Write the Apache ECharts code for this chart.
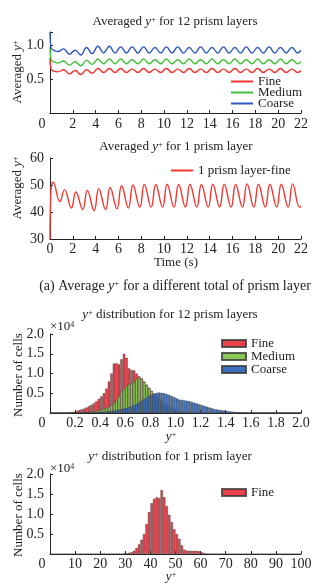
<!DOCTYPE html>
<html>
<head>
<meta charset="utf-8">
<script src="https://cdn.jsdelivr.net/npm/echarts@6/dist/echarts.min.js"></script>
<style>html,body{margin:0;padding:0;background:#fff}#c{width:327px;height:586px}</style>
</head>
<body>
<div id="c"></div>
<script>
// ---------- Data ----------
// (a) averaged y+ for 12 prism layers (time in s)
const time12 = [0,0.08,0.3,0.7,1.2,1.7,2.2,2.7,3.2,3.7,4.2,4.7,5.2,5.7,6.2,6.7,7.2,7.7,8.2,8.7,9.2,9.7,10.2,10.7,11.2,11.7,12.2,12.7,13.2,13.7,14.2,14.7,15.2,15.7,16.2,16.7,17.2,17.7,18.2,18.7,19.2,19.7,20.2,20.7,21.2,21.7,22];
const fine12 = [0.82,0.66,0.62, 0.61,0.64, 0.58,0.63, 0.57,0.64, 0.59,0.66, 0.60,0.66, 0.60,0.66, 0.60,0.65, 0.60,0.66, 0.60,0.65, 0.60,0.66, 0.60,0.65, 0.60,0.66, 0.60,0.65, 0.60,0.66, 0.60,0.65, 0.60,0.66, 0.60,0.65, 0.60,0.66, 0.60,0.65, 0.60,0.66, 0.60,0.65, 0.60,0.63];
const medium12 = [0.98,0.80,0.76, 0.74,0.77, 0.71,0.76, 0.70,0.78, 0.72,0.80, 0.73,0.80, 0.73,0.80, 0.73,0.79, 0.73,0.80, 0.73,0.79, 0.73,0.80, 0.73,0.79, 0.73,0.80, 0.73,0.79, 0.73,0.80, 0.73,0.79, 0.73,0.80, 0.73,0.79, 0.73,0.80, 0.73,0.79, 0.73,0.80, 0.73,0.79, 0.73,0.76];
const coarse12 = [1.20,0.97,0.93, 0.91,0.95, 0.87,0.93, 0.86,0.97, 0.88,0.99, 0.89,0.99, 0.89,0.98, 0.89,0.98, 0.89,0.98, 0.89,0.97, 0.89,0.98, 0.89,0.98, 0.89,0.97, 0.89,0.98, 0.89,0.97, 0.89,0.98, 0.89,0.97, 0.89,0.98, 0.89,0.97, 0.89,0.98, 0.89,0.97, 0.89,0.97, 0.89,0.93];
// averaged y+ for 1 prism layer
const time1 = [0,0.08,0.27,0.87,1.27,1.87,2.27,2.87,3.27,3.87,4.27,4.87,5.27,5.87,6.27,6.87,7.27,7.87,8.27,8.87,9.27,9.87,10.27,10.87,11.27,11.87,12.27,12.87,13.27,13.87,14.27,14.87,15.27,15.87,16.27,16.87,17.27,17.87,18.27,18.87,19.27,19.87,20.27,20.87,21.27,21.87,22];
const fine1 = [30,48,51.0, 43.9,48.3, 41.5,47.4, 40.9,48.0, 40.5,48.6, 40.9,49.1, 41.2,49.7, 41.5,50.0, 41.7,50.2, 41.8,50.2, 41.8,50.3, 41.8,50.2, 41.8,50.3, 41.8,50.2, 41.8,50.3, 41.8,50.3, 41.8,50.2, 41.8,50.4, 41.8,50.3, 41.8,50.3, 41.8,50.3, 41.8,50.4, 41.8,42.1];

// (b) y+ distribution for 12 prism layers, bins of 0.02 (x10^4 cells)
const fine12Hist = [0,0,0,0,0, 0.005,0.01,0.015,0.02,0.03,
  0.05,0.07,0.09,0.11,0.14, 0.17,0.21,0.25,0.30,0.36,
  0.42,0.50,0.62,0.80,1.00, 1.25,1.26,1.23,1.36,1.50,
  1.40,1.13,1.09,1.08,1.00, 0.93,0.88,0.80,0.72,0.64,
  0.56,0.48,0.40,0.32,0.25, 0.19,0.14,0.10,0.07,0.05,
  0.035,0.025,0.018,0.012,0.008, 0.005,0.003,0.002,0.001,0.001,
  0,0,0,0,0,0,0,0,0,0, 0,0,0,0,0,0,0,0,0,0, 0,0,0,0,0,0,0,0,0,0, 0,0,0,0,0,0,0,0,0,0];
const medium12Hist = [0,0,0,0,0, 0,0,0.003,0.005,0.008,
  0.01,0.013,0.017,0.02,0.025, 0.03,0.04,0.05,0.06,0.075,
  0.09,0.11,0.13,0.16,0.20, 0.25,0.32,0.42,0.53,0.62,
  0.68,0.73,0.76,0.79,0.86, 0.90,0.86,0.78,0.70,0.63,
  0.56,0.49,0.43,0.37,0.31, 0.26,0.21,0.17,0.14,0.11,
  0.09,0.07,0.055,0.045,0.035, 0.027,0.02,0.015,0.011,0.008,
  0.006,0.004,0.003,0.002,0.001, 0,0,0,0,0,
  0,0,0,0,0,0,0,0,0,0, 0,0,0,0,0,0,0,0,0,0, 0,0,0,0,0,0,0,0,0,0];
const coarse12Hist = [0,0,0,0,0, 0,0,0,0,0,
  0.003,0.004,0.005,0.006,0.008, 0.01,0.012,0.015,0.018,0.022,
  0.026,0.03,0.036,0.043,0.05, 0.06,0.07,0.085,0.10,0.115,
  0.13,0.15,0.17,0.20,0.23, 0.27,0.31,0.35,0.39,0.43,
  0.46,0.49,0.51,0.52,0.51, 0.50,0.48,0.46,0.43,0.40,
  0.37,0.34,0.33,0.32,0.31, 0.30,0.28,0.26,0.24,0.22,
  0.20,0.18,0.16,0.14,0.12, 0.10,0.09,0.08,0.07,0.06,
  0.05,0.042,0.035,0.03,0.025, 0.02,0.016,0.013,0.01,0.008,
  0.006,0.005,0.004,0.003,0.003, 0.002,0.002,0.001,0.001,0.001,
  0,0,0,0,0,0,0,0,0,0];
// y+ distribution for 1 prism layer, bins of 1 (x10^4 cells)
const fine1Hist = [0,0,0,0,0,0,0,0,0,0, 0,0,0,0,0,0,0,0,0,0,
  0.003,0.004,0.005,0.006,0.008, 0.01,0.01,0.012,0.012,0.015,
  0.02,0.03,0.045,0.08,0.15, 0.24,0.36,0.50,0.75,1.05,
  1.27,1.38,1.42,1.40,1.60, 1.42,1.20,0.98,0.80,0.62,
  0.50,0.38,0.22,0.11,0.085, 0.08,0.08,0.08,0.08,0.07,
  0.045,0.025,0.012,0.008,0.005, 0.004,0.003,0.002,0.002,0.001,
  0,0,0,0,0,0,0,0,0,0, 0,0,0,0,0,0,0,0,0,0, 0,0,0,0,0,0,0,0,0,0];

const binWidth12 = 0.02, binWidth1 = 1;
const bins12 = fine12Hist.map((_, i) => ((i + 0.5) * binWidth12).toFixed(2));
const bins1 = fine1Hist.map((_, i) => ((i + 0.5) * binWidth1).toFixed(1));

// ---------- Styling ----------
const FONT = 'Liberation Serif';
const INK = '#222';
const rich = {
  i: { fontFamily: FONT, fontStyle: 'italic', fontSize: 13, fill: INK, color: INK },
  s: { fontFamily: FONT, fontSize: 8, verticalAlign: 'top', fill: INK, color: INK }
};
const richL = {
  i: { fontFamily: FONT, fontStyle: 'italic', fontSize: 14, fill: INK, color: INK },
  s: { fontFamily: FONT, fontSize: 9, verticalAlign: 'top', fill: INK, color: INK }
};
function txt(text, x, y, opt) {
  opt = opt || {};
  const size = opt.size || 13;
  return {
    type: 'text', x: x, y: y, rotation: opt.rot || 0, silent: true,
    style: {
      text: text, font: size + 'px "' + FONT + '"', fill: INK,
      align: opt.align || 'center', verticalAlign: 'middle',
      textAlign: opt.align || 'center', textVerticalAlign: 'middle',
      rich: size >= 14 ? richL : rich
    }
  };
}
const zip = (xs, ys) => xs.map((x, i) => [x, ys[i]]);

const axisLine = { lineStyle: { color: INK, width: 1 } };
const axisTick = { inside: true, length: 3, lineStyle: { color: INK } };
const lbl = (fmt, margin) => ({ fontFamily: FONT, fontSize: 14, color: INK, margin: margin, formatter: fmt,
  rich: { z: { fontFamily: FONT, fontSize: 14, color: INK, padding: [0, 16, 0, 0] } } });
const fmtZeroShift = d => v => (Math.abs(v) < 1e-9 ? '{z|0}' : v.toFixed(d));
const fmtY = v => (Math.abs(v) < 1e-9 ? '' : (Math.abs(v / 0.5 - Math.round(v / 0.5)) > 1e-6 ? '' : v.toFixed(1)));

const grids = [
  { left: 50, top: 32, width: 251, height: 81 },
  { left: 50, top: 158, width: 251, height: 81 },
  { left: 50, top: 334, width: 251, height: 79 },
  { left: 50, top: 474, width: 251, height: 80 }
];

const xAxes = [
  { type: 'value', gridIndex: 0, position: 'bottom', min: 0, max: 22, interval: 2, axisLine, axisTick, splitLine: { show: false }, axisLabel: lbl(fmtZeroShift(0), 4) },
  { type: 'value', gridIndex: 1, position: 'bottom', min: 0, max: 22, interval: 2, axisLine, axisTick, splitLine: { show: false }, axisLabel: lbl(v => String(v), 3) },
  { type: 'category', gridIndex: 2, position: 'top', data: bins12, show: false, boundaryGap: true },
  { type: 'value', gridIndex: 2, position: 'bottom', min: 0, max: 2, interval: 0.2, axisLine, axisTick, splitLine: { show: false }, axisLabel: lbl(fmtZeroShift(1), 3) },
  { type: 'category', gridIndex: 3, position: 'top', data: bins1, show: false, boundaryGap: true },
  { type: 'value', gridIndex: 3, position: 'bottom', min: 0, max: 100, interval: 10, axisLine, axisTick, splitLine: { show: false }, axisLabel: lbl(fmtZeroShift(0), 3) }
];
const yAxes = [
  { type: 'value', gridIndex: 0, min: 0, max: 1.2, interval: 0.5, axisLine, axisTick, splitLine: { show: false }, axisLabel: lbl(fmtY, 6) },
  { type: 'value', gridIndex: 1, min: 30, max: 60, interval: 10, axisLine, axisTick, splitLine: { show: false }, axisLabel: lbl(v => String(v), 6) },
  { type: 'value', gridIndex: 2, min: 0, max: 2, interval: 0.5, axisLine, axisTick, splitLine: { show: false }, axisLabel: lbl(fmtY, 6) },
  { type: 'value', gridIndex: 3, min: 0, max: 2, interval: 0.5, axisLine, axisTick, splitLine: { show: false }, axisLabel: lbl(fmtY, 6) }
];

const RED = '#f2352d', GREEN = '#45be3a', BLUE = '#2d58c2';
const HRED = '#e8414a', HGREEN = '#8cc855', HBLUE = '#3c70bd';
const lineS = (name, xi, yi, xs, ys, color) => ({
  name, type: 'line', xAxisIndex: xi, yAxisIndex: yi, data: zip(xs, ys),
  symbol: 'none', smooth: 0.45, lineStyle: { color, width: 1.4 }, itemStyle: { color }
});
const barS = (name, xi, yi, ys, color) => ({
  name, type: 'bar', xAxisIndex: xi, yAxisIndex: yi, data: ys,
  barWidth: '100%', barGap: '-100%', barCategoryGap: 0,
  itemStyle: { color, borderColor: 'rgba(55,55,55,0.8)', borderWidth: 0.5 }
});

const legendText = { fontFamily: FONT, fontSize: 13, color: INK };
const option = {
  animation: false,
  grid: grids,
  xAxis: xAxes,
  yAxis: yAxes,
  legend: [
    { data: ['Fine', 'Medium', 'Coarse'], orient: 'vertical', left: 231, top: 75, padding: 0, itemGap: -2,
      icon: 'rect', itemWidth: 22, itemHeight: 2, textStyle: Object.assign({ lineHeight: 11.5 }, legendText) },
    { data: ['1 prism layer-fine'], orient: 'vertical', left: 171, top: 164, padding: 0,
      icon: 'rect', itemWidth: 22, itemHeight: 2, textStyle: Object.assign({ lineHeight: 13 }, legendText) },
    { data: ['Fine ', 'Medium ', 'Coarse '], orient: 'vertical', left: 221, top: 337, padding: 0, itemGap: 0,
      itemWidth: 24, itemHeight: 7, icon: 'rect', formatter: n => n.trim(), textStyle: Object.assign({ lineHeight: 13 }, legendText) },
    { data: ['Fine  '], orient: 'vertical', left: 221, top: 486, padding: 0,
      itemWidth: 24, itemHeight: 7, icon: 'rect', formatter: n => n.trim(), textStyle: Object.assign({ lineHeight: 13 }, legendText) }
  ],
  series: [
    lineS('Fine', 0, 0, time12, fine12, RED),
    lineS('Medium', 0, 0, time12, medium12, GREEN),
    lineS('Coarse', 0, 0, time12, coarse12, BLUE),
    lineS('1 prism layer-fine', 1, 1, time1, fine1, RED),
    barS('Fine ', 2, 2, fine12Hist, HRED),
    barS('Medium ', 2, 2, medium12Hist, HGREEN),
    barS('Coarse ', 2, 2, coarse12Hist, HBLUE),
    barS('Fine  ', 4, 3, fine1Hist, HRED)
  ],
  graphic: [
    txt('Averaged {i|y}{s|+} for 12 prism layers', 175, 22),
    txt('Averaged {i|y}{s|+}', 18, 72, { rot: Math.PI / 2 }),
    txt('Averaged {i|y}{s|+} for 1 prism layer', 176, 147),
    txt('Averaged {i|y}{s|+}', 18, 188, { rot: Math.PI / 2 }),
    txt('Time (s)', 176, 263),
    txt('(a) Average {i|y}{s|+} for a different total of prism layer', 175, 286, { size: 14 }),
    txt('{i|y}{s|+} distribution for 12 prism layers', 170, 315),
    txt('×10{s|4}', 50, 327, { align: 'left' }),
    txt('Number of cells', 19, 375, { rot: Math.PI / 2 }),
    txt('{i|y}{s|+}', 171, 437),
    txt('{i|y}{s|+} distribution for 1 prism layer', 170, 457),
    txt('×10{s|4}', 50, 469, { align: 'left' }),
    txt('Number of cells', 19, 515, { rot: Math.PI / 2 }),
    txt('{i|y}{s|+}', 171, 577)
  ]
};
const chart = echarts.init(document.getElementById('c'), null, { renderer: 'canvas' });
chart.setOption(option);
</script>
</body>
</html>
